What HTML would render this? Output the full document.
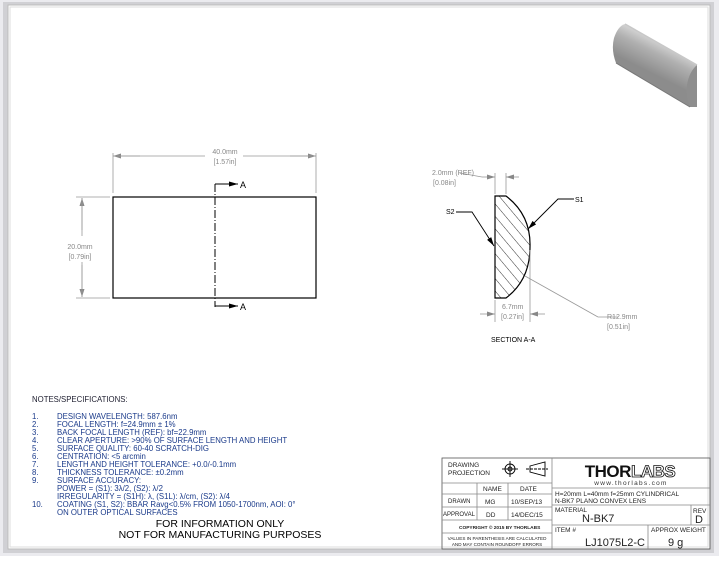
<!DOCTYPE html>
<html><head><style>
body{margin:0;width:719px;height:556px;overflow:hidden;background:#fff;font-family:"Liberation Sans",sans-serif}
svg text{font-family:"Liberation Sans",sans-serif}
</style></head><body>
<svg width="719" height="556" xmlns="http://www.w3.org/2000/svg">
<defs>
<marker id="ar" markerWidth="8" markerHeight="6" refX="8" refY="3" orient="auto" markerUnits="userSpaceOnUse"><path d="M0,0.5L8,3L0,5.5z" fill="#888"/></marker>
<marker id="ab" markerWidth="9" markerHeight="6" refX="9" refY="3" orient="auto" markerUnits="userSpaceOnUse"><path d="M0,0.5L9,3L0,5.5z" fill="#000"/></marker>
<linearGradient id="g1" gradientUnits="userSpaceOnUse" x1="640" y1="30" x2="625" y2="60"><stop offset="0" stop-color="#d8d8d8"/><stop offset="0.4" stop-color="#b0b0b0"/><stop offset="1" stop-color="#8c8c8c"/></linearGradient>
<pattern id="hat" width="8" height="8" patternUnits="userSpaceOnUse" patternTransform="rotate(-40)"><line x1="0" y1="0" x2="0" y2="8" stroke="#000" stroke-width="0.8"/></pattern>
</defs>
<rect x="0" y="0" width="719" height="556" fill="#ebebef"/>
<rect x="3" y="2" width="711" height="551" fill="#d0d0d4"/>
<rect x="8" y="5" width="702" height="544" fill="#fff" stroke="#bbb" stroke-width="1"/>
<rect x="10" y="7" width="698" height="540" fill="none" stroke="#ddd" stroke-width="1"/>

<!-- 3D lens -->
<path d="M625,24 L697,65 L697,107 L690,107 L616,63 Q611,50 614,38 Q618,26 625,24z" fill="url(#g1)"/>
<path d="M697,65 L697,107 L690,107 Q685,95 687,85 Q689,72 697,65z" fill="#8e8e8e"/>
<path d="M625,24 L697,65" stroke="#c8c8c8" stroke-width="1.5"/>
<path d="M616,63 L690,107" stroke="#777" stroke-width="1"/>

<!-- front view -->
<rect x="113" y="197" width="203" height="101" fill="none" stroke="#000" stroke-width="1.2"/>
<g stroke="#999" stroke-width="0.8" fill="none">
<line x1="113" y1="153" x2="113" y2="193"/><line x1="316" y1="153" x2="316" y2="193"/>
<line x1="140" y1="156" x2="113" y2="156" marker-end="url(#ar)"/><line x1="290" y1="156" x2="316" y2="156" marker-end="url(#ar)"/>
<line x1="114" y1="156" x2="205" y2="156"/><line x1="243" y1="156" x2="315" y2="156"/>
<line x1="76" y1="197" x2="110" y2="197"/><line x1="76" y1="298" x2="110" y2="298"/>
<line x1="82" y1="230" x2="82" y2="198" marker-end="url(#ar)"/><line x1="82" y1="265" x2="82" y2="297" marker-end="url(#ar)"/>
<line x1="82" y1="198" x2="82" y2="236"/><line x1="82" y1="262" x2="82" y2="297"/>
</g>
<text x="225" y="154" font-size="7" fill="#888" text-anchor="middle">40.0mm</text>
<text x="225" y="164" font-size="7" fill="#888" text-anchor="middle">[1.57in]</text>
<text x="80" y="249" font-size="7" fill="#888" text-anchor="middle">20.0mm</text>
<text x="80" y="259" font-size="7" fill="#888" text-anchor="middle">[0.79in]</text>
<line x1="215" y1="184" x2="215" y2="307" stroke="#000" stroke-width="1" stroke-dasharray="8,2,1,2"/>
<line x1="215" y1="184" x2="238" y2="184" stroke="#000" marker-end="url(#ab)"/>
<line x1="215" y1="306" x2="238" y2="306" stroke="#000" marker-end="url(#ab)"/>
<text x="240" y="188" font-size="9">A</text><text x="240" y="310" font-size="9">A</text>

<!-- section -->
<path d="M495,196 L506,196 Q531,215 530,247 Q530,280 506,298 L495,298z" fill="url(#hat)" stroke="#000" stroke-width="1.2"/>
<g stroke="#999" stroke-width="0.8" fill="none">
<line x1="495" y1="173" x2="495" y2="194"/><line x1="506" y1="173" x2="506" y2="194"/>
<line x1="482" y1="177" x2="495" y2="177" marker-end="url(#ar)"/><line x1="519" y1="177" x2="506" y2="177" marker-end="url(#ar)"/>
<line x1="460" y1="173" x2="482" y2="177"/>
<line x1="495" y1="300" x2="495" y2="322"/><line x1="530" y1="250" x2="530" y2="322"/>
<line x1="480" y1="314" x2="495" y2="314" marker-end="url(#ar)"/><line x1="545" y1="314" x2="530" y2="314" marker-end="url(#ar)"/>
<line x1="525" y1="276" x2="598" y2="317"/><line x1="598" y1="317" x2="618" y2="317"/>
</g>
<text x="432" y="175" font-size="7" fill="#888">2.0mm  (REF)</text>
<text x="433" y="185" font-size="7" fill="#888">[0.08in]</text>
<text x="502" y="309" font-size="7" fill="#888">6.7mm</text>
<text x="501" y="319" font-size="7" fill="#888">[0.27in]</text>
<text x="607" y="319" font-size="7" fill="#888">R12.9mm</text>
<text x="607" y="329" font-size="7" fill="#888">[0.51in]</text>
<polyline points="456,212 472,212 494,246" fill="none" stroke="#000" stroke-width="0.9" marker-end="url(#ab)"/>
<polyline points="574,199 558,199 528,229" fill="none" stroke="#000" stroke-width="0.9" marker-end="url(#ab)"/>
<text x="446" y="214" font-size="7">S2</text><text x="575" y="202" font-size="7">S1</text>
<text x="491" y="342" font-size="7">SECTION A-A</text>

<!-- notes -->
<g font-size="7.8" fill="#223">
<text x="32" y="402">NOTES/SPECIFICATIONS:</text>
<g fill="#1a3a8a">
<text x="32" y="419">1.</text><text x="57" y="419">DESIGN WAVELENGTH: 587.6nm</text>
<text x="32" y="427">2.</text><text x="57" y="427">FOCAL LENGTH: f=24.9mm ± 1%</text>
<text x="32" y="435">3.</text><text x="57" y="435">BACK FOCAL LENGTH (REF):  bf=22.9mm</text>
<text x="32" y="443">4.</text><text x="57" y="443">CLEAR APERTURE: &gt;90% OF SURFACE LENGTH AND HEIGHT</text>
<text x="32" y="451">5.</text><text x="57" y="451">SURFACE QUALITY: 60-40 SCRATCH-DIG</text>
<text x="32" y="459">6.</text><text x="57" y="459">CENTRATION: &lt;5 arcmin</text>
<text x="32" y="467">7.</text><text x="57" y="467">LENGTH AND HEIGHT TOLERANCE: +0.0/-0.1mm</text>
<text x="32" y="475">8.</text><text x="57" y="475">THICKNESS TOLERANCE: ±0.2mm</text>
<text x="32" y="483">9.</text><text x="57" y="483">SURFACE ACCURACY:</text>
<text x="57" y="491">POWER = (S1): 3λ/2, (S2): λ/2</text>
<text x="57" y="499">IRREGULARITY = (S1H): λ, (S1L): λ/cm, (S2): λ/4</text>
<text x="32" y="507">10.</text><text x="57" y="507">COATING (S1, S2): BBAR Ravg&lt;0.5% FROM 1050-1700nm, AOI: 0°</text>
<text x="57" y="515">ON OUTER OPTICAL SURFACES</text>
</g>
<text x="220" y="527" font-size="10.5" fill="#000" text-anchor="middle">FOR INFORMATION ONLY</text>
<text x="220" y="538" font-size="10.5" fill="#000" text-anchor="middle">NOT FOR MANUFACTURING PURPOSES</text>
</g>

<!-- title block -->
<g stroke="#888" stroke-width="0.8" fill="none">
<rect x="442" y="458" width="268" height="91" stroke="#555"/>
<line x1="552" y1="458" x2="552" y2="549"/>
<line x1="442" y1="483" x2="552" y2="483"/><line x1="442" y1="494" x2="552" y2="494"/>
<line x1="442" y1="507" x2="552" y2="507"/><line x1="442" y1="520" x2="552" y2="520"/>
<line x1="442" y1="533" x2="552" y2="533"/>
<line x1="477" y1="483" x2="477" y2="520"/><line x1="508" y1="483" x2="508" y2="520"/>
<line x1="552" y1="488" x2="710" y2="488"/><line x1="552" y1="505" x2="710" y2="505"/>
<line x1="552" y1="525" x2="710" y2="525"/>
<line x1="691" y1="505" x2="691" y2="525"/><line x1="648" y1="525" x2="648" y2="549"/>
</g>
<g stroke="#000" stroke-width="0.9" fill="none">
<circle cx="510" cy="469" r="5"/><circle cx="510" cy="469" r="2"/>
<line x1="502" y1="469" x2="518" y2="469"/><line x1="510" y1="461" x2="510" y2="477"/>
<path d="M530,466 L545,462 L545,476 L530,472z"/><line x1="526" y1="469" x2="548" y2="469" stroke-dasharray="3,1"/>
</g>
<g font-size="6.5" fill="#222">
<text x="448" y="467">DRAWING</text><text x="448" y="475">PROJECTION</text>
<text x="483" y="491">NAME</text><text x="520" y="491">DATE</text>
<text x="448" y="503" font-size="6">DRAWN</text><text x="485" y="504">MG</text><text x="511" y="504">10/SEP/13</text>
<text x="443" y="516" font-size="6">APPROVAL</text><text x="486" y="517">DD</text><text x="511" y="517">14/DEC/15</text>
<text x="459" y="529" font-size="4.8" font-weight="bold">COPYRIGHT © 2015 BY THORLABS</text>
<text x="497" y="540" font-size="4.6" text-anchor="middle">VALUES IN PARENTHESIS ARE CALCULATED</text>
<text x="497" y="546" font-size="4.6" text-anchor="middle">AND MAY CONTAIN ROUNDOFF ERRORS</text>
<text x="555" y="496">H=20mm L=40mm f=25mm CYLINDRICAL</text>
<text x="555" y="503">N-BK7 PLANO CONVEX LENS</text>
<text x="555" y="512">MATERIAL</text>
<text x="693" y="513">REV</text>
<text x="555" y="532">ITEM #</text>
<text x="651" y="532">APPROX WEIGHT</text>
</g>
<text x="630" y="477" font-size="17" font-weight="bold" fill="#111" text-anchor="middle" letter-spacing="-0.5">THOR<tspan fill="#fff" stroke="#111" stroke-width="0.8">LABS</tspan></text>
<text x="631" y="485" font-size="6.5" fill="#333" text-anchor="middle" letter-spacing="1.3">www.thorlabs.com</text>
<text x="582" y="522" font-size="11" fill="#222">N-BK7</text>
<text x="695" y="523" font-size="11" fill="#222">D</text>
<text x="585" y="546" font-size="11" fill="#222">LJ1075L2-C</text>
<text x="668" y="546" font-size="11" fill="#222">9 g</text>
</svg>
</body></html>
